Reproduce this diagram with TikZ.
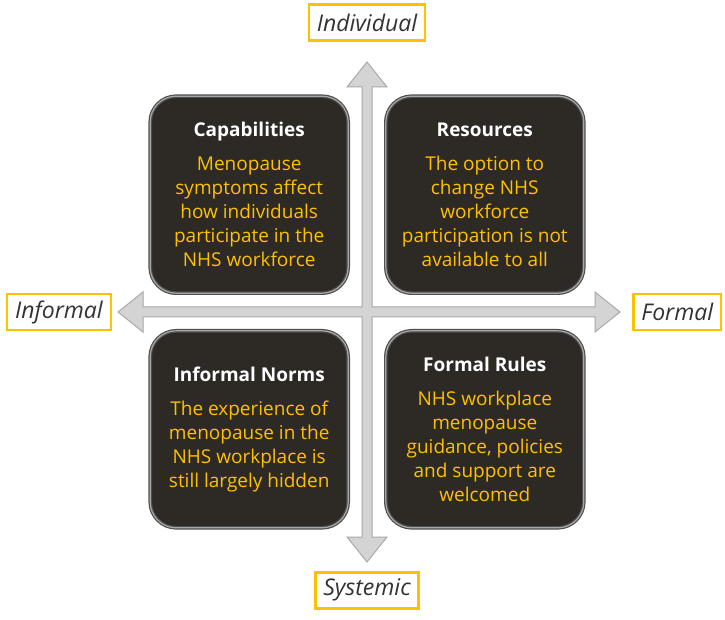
\documentclass[tikz,border=0pt]{standalone}
\usepackage{fontspec}
\setmainfont{Open Sans}
\usetikzlibrary{positioning}
\definecolor{quadfill}{HTML}{2D2A26}
\definecolor{quadline}{HTML}{4E4E4E}
\definecolor{quadshine}{HTML}{A8A8A8}
\definecolor{gold}{HTML}{FFC000}
\definecolor{axisfill}{HTML}{D4D4D4}
\definecolor{axisline}{HTML}{A8A8A8}
\definecolor{labeltext}{HTML}{333333}
\tikzstyle{quad} = [rectangle, draw=quadline, line width=1.2pt, double=quadshine,
    double distance=1.2pt, fill=quadfill, rounded corners=26pt,
    minimum width=198pt, minimum height=197pt, outer sep=1.8pt,
    align=center, text=gold, inner sep=0pt, font=\fontsize{19}{24}\selectfont]
\tikzstyle{axislabel} = [rectangle, draw=gold, line width=2.5pt, fill=white,
    text=labeltext, minimum height=36pt, inner xsep=8pt,
    font=\fontsize{23}{26}\selectfont\itshape]
\tikzstyle{axis} = [fill=axisfill, draw=axisline, line width=1pt, line join=miter]
\newcommand{\quadtitle}[1]{{\bfseries\color{white}#1}\\[10pt]}

\begin{document}
\begin{tikzpicture}[x=1pt,y=1pt]
  \useasboundingbox[fill=white] (0,0) rectangle (725,619);
  % Draw axes
  \draw[axis] (367,557) -- (387,532) -- (372,532) -- (372,312) -- (595,312)
    -- (595,327) -- (620,307) -- (595,287) -- (595,302) -- (372,302)
    -- (372,82) -- (387,82) -- (367,57) -- (347,82) -- (362,82) -- (362,302)
    -- (143,302) -- (143,287) -- (118,307) -- (143,327) -- (143,312)
    -- (362,312) -- (362,532) -- (347,532) -- cycle;
  \coordinate (origin) at (367,307);
  \coordinate (top) at (367,557);
  \coordinate (bottom) at (367,57);
  \coordinate (left) at (118,307);
  \coordinate (right) at (620,307);
  % Place labels
  \node [axislabel, above=20pt of top] (individual) {Individual};
  \node [axislabel, below=9pt of bottom] (systemic) {Systemic};
  \node [axislabel, left=6pt of left] (informal) {Informal};
  \node [axislabel, right=12pt of right] (formal) {Formal};
  % Place boxes
  \node [quad, above left=17pt and 17pt of origin] (capabilities)
  {\quadtitle{Capabilities}Menopause\\symptoms affect\\how individuals\\participate in the\\NHS workforce};
  \node [quad, above right=17pt and 17pt of origin] (resources)
  {\quadtitle{Resources}The option to\\change NHS\\workforce\\participation is not\\available to all};
  \node [quad, below left=17pt and 17pt of origin] (norms)
  {\quadtitle{Informal Norms}The experience of\\menopause in the\\NHS workplace is\\still largely hidden};
  \node [quad, below right=17pt and 17pt of origin] (rules)
  {\quadtitle{Formal Rules}NHS workplace\\menopause\\guidance, policies\\and support are\\welcomed};
\end{tikzpicture}
\end{document}
